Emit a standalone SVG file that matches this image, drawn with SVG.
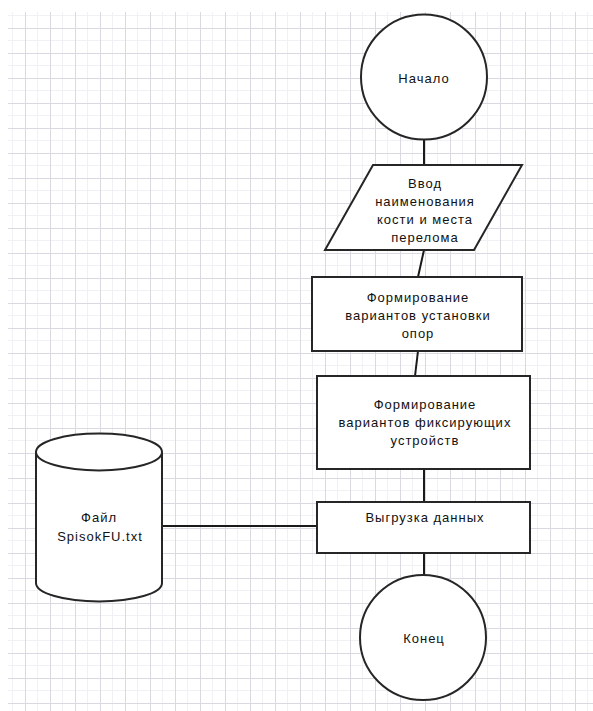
<svg xmlns="http://www.w3.org/2000/svg" width="593" height="711" viewBox="0 0 593 711">
  <defs>
    <pattern id="grid" patternUnits="userSpaceOnUse" x="0" y="3" width="25" height="25">
      <rect width="25" height="25" fill="#ffffff"/>
      <path d="M12.5 0V25M0 12.5H25" stroke="#f1f1f5" stroke-width="1" fill="none"/>
      <path d="M0.5 0V25M0 0.5H25" stroke="#d9d9e1" stroke-width="1" fill="none"/>
    </pattern>
    <style>
      .shape { fill: #ffffff; stroke: #262626; stroke-width: 2; }
      .conn { stroke: #1a1a1a; stroke-width: 2; fill: none; }
      .t { font-family: "Liberation Sans", Arial, sans-serif; font-size: 13px; letter-spacing: 1px; fill: #111111; text-anchor: middle; }
    </style>
  </defs>
  <rect x="0" y="0" width="593" height="711" fill="#ffffff"/>
  <rect x="8" y="12" width="585" height="699" fill="url(#grid)"/>

  <g id="connectors">
    <path class="conn" d="M424 139V165"/>
    <path class="conn" d="M424 250L418 277"/>
    <path class="conn" d="M418 351L415 376"/>
    <path class="conn" d="M424 469V502"/>
    <path class="conn" d="M424 553V575"/>
    <path class="conn" d="M162 526H317"/>
  </g>

  <g id="start">
    <ellipse class="shape" cx="424" cy="77" rx="63" ry="62.5"/>
    <text class="t" x="424" y="83">Начало</text>
  </g>

  <g id="input">
    <polygon class="shape" points="373,165 522,165 474,250 325,250"/>
    <text class="t" x="425" y="188">Ввод</text>
    <text class="t" x="425" y="206">наименования</text>
    <text class="t" x="425" y="224">кости и места</text>
    <text class="t" x="425" y="242">перелома</text>
  </g>

  <g id="supports">
    <rect class="shape" x="312" y="277" width="210" height="74"/>
    <text class="t" x="418" y="302">Формирование</text>
    <text class="t" x="418" y="320">вариантов установки</text>
    <text class="t" x="418" y="338">опор</text>
  </g>

  <g id="devices">
    <rect class="shape" x="317" y="376" width="213" height="93"/>
    <text class="t" x="425" y="409">Формирование</text>
    <text class="t" x="425" y="427">вариантов фиксирующих</text>
    <text class="t" x="425" y="445">устройств</text>
  </g>

  <g id="export">
    <rect class="shape" x="317" y="502" width="213" height="51"/>
    <text class="t" x="425" y="522">Выгрузка данных</text>
  </g>

  <g id="file">
    <path class="shape" d="M36 452V583A63 18.5 0 0 0 162 583V452A63 18.5 0 0 0 36 452Z"/>
    <path class="shape" d="M36 452A63 18.5 0 0 0 162 452" fill="none"/>
    <text class="t" x="99" y="522">Файл</text>
    <text class="t" x="100" y="541">SpisokFU.txt</text>
  </g>

  <g id="end">
    <ellipse class="shape" cx="423" cy="637.5" rx="63" ry="62.5"/>
    <text class="t" x="424" y="643">Конец</text>
  </g>
</svg>
